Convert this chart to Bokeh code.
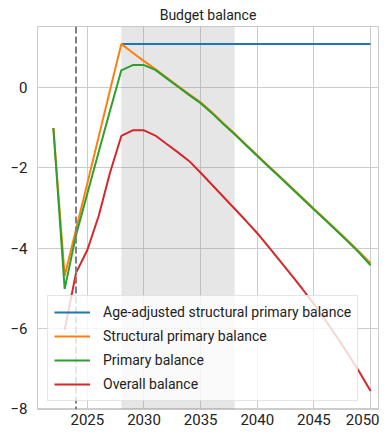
import math
from bokeh.plotting import figure
from bokeh.models import Range1d, Span, BoxAnnotation, Legend, LegendItem, FixedTicker, Title
from bokeh.embed import file_html
from bokeh.resources import INLINE

nan = float("nan")
years = list(range(2022, 2051))
age_adjusted = [nan] * 6 + [1.1] * 23
structural = [-1.0, -4.7, -3.54, -2.38, -1.22, -0.06, 1.1, 0.88, 0.67, 0.47,
              0.26, 0.05, -0.16, -0.36, -0.61, -0.88, -1.14, -1.41, -1.68,
              -1.95, -2.21, -2.48, -2.75, -3.02, -3.28, -3.55, -3.82, -4.09, -4.38]
primary = [-1.0, -5.02, -3.68, -2.64, -1.6, -0.57, 0.44, 0.57, 0.57, 0.45,
           0.24, 0.03, -0.18, -0.38, -0.63, -0.9, -1.16, -1.43, -1.70,
           -1.97, -2.23, -2.50, -2.77, -3.04, -3.30, -3.57, -3.84, -4.12, -4.43]
overall = [nan, -6.05, -4.62, -4.05, -3.2, -2.12, -1.2, -1.06, -1.06, -1.19,
           -1.40, -1.61, -1.83, -2.12, -2.42, -2.72, -3.02, -3.32, -3.63,
           -3.97, -4.32, -4.67, -5.03, -5.40, -5.80, -6.21, -6.64, -7.09, -7.57]
labels = ["Age-adjusted structural primary balance", "Structural primary balance",
          "Primary balance", "Overall balance"]
colors = ["#1f77b4", "#ff7f0e", "#2ca02c", "#d62728"]
x_ticks = [2025, 2030, 2035, 2040, 2045, 2050]
y_ticks = [-8, -6, -4, -2, 0]
y_tick_labels = ["\u22128", "\u22126", "\u22124", "\u22122", "0"]
shade_start, shade_end = 2028, 2038
marker_year = 2024
title_text = "Budget balance"

FONT = "Roboto"

p = figure(width=379, height=431, output_backend="svg", toolbar_location=None,
           x_range=Range1d(2020.6, 2050.7), y_range=Range1d(-8.035, 1.535),
           min_border_left=37, min_border_right=1, min_border_bottom=22, min_border_top=0)
p.title = Title(text=title_text, align="center", text_font=FONT, text_font_size="14px",
                text_font_style="normal", text_color="#222222", standoff=8, offset=5)
p.outline_line_color = "#cccccc"
p.outline_line_width = 1
p.background_fill_color = "white"
p.border_fill_color = "white"

for ax in (p.xaxis, p.yaxis):
    ax.axis_line_color = None
    ax.major_tick_line_color = None
    ax.minor_tick_line_color = None
    ax.major_tick_out = 0
    ax.major_tick_in = 0
    ax.minor_tick_out = 0
    ax.minor_tick_in = 0
    ax.major_label_text_font = FONT
    ax.major_label_text_font_size = "15px"
    ax.major_label_text_color = "#222222"
p.xaxis.ticker = FixedTicker(ticks=x_ticks)
p.yaxis.ticker = FixedTicker(ticks=y_ticks)
p.yaxis.major_label_overrides = {t: l for t, l in zip(y_ticks, y_tick_labels)}
p.xaxis.major_label_standoff = 4
p.yaxis.major_label_standoff = 10
p.xgrid.ticker = FixedTicker(ticks=x_ticks)
p.ygrid.ticker = FixedTicker(ticks=y_ticks)
p.grid.grid_line_color = "#cccccc"
p.grid.grid_line_width = 1

p.add_layout(BoxAnnotation(left=shade_start, right=shade_end, fill_color="gray",
                           fill_alpha=0.2, line_color=None, level="underlay"))
p.add_layout(Span(location=marker_year, dimension="height", line_color="gray",
                  line_width=2, line_dash="7 3"))

items = []
for series, lab, col in zip([age_adjusted, structural, primary, overall], labels, colors):
    r = p.line(years, series, line_color=col, line_width=2)
    items.append(LegendItem(label=lab, renderers=[r]))

leg = Legend(items=items, location=(10, 8), label_text_font=FONT,
             label_text_font_size="14px", label_text_color="#222222",
             glyph_width=36, glyph_height=20, label_height=20, label_standoff=13,
             spacing=4, padding=6, margin=0, background_fill_alpha=0.8,
             border_line_color="#cccccc", border_line_width=1)
p.add_layout(leg)

open("out.html", "w").write(file_html(p, INLINE))
